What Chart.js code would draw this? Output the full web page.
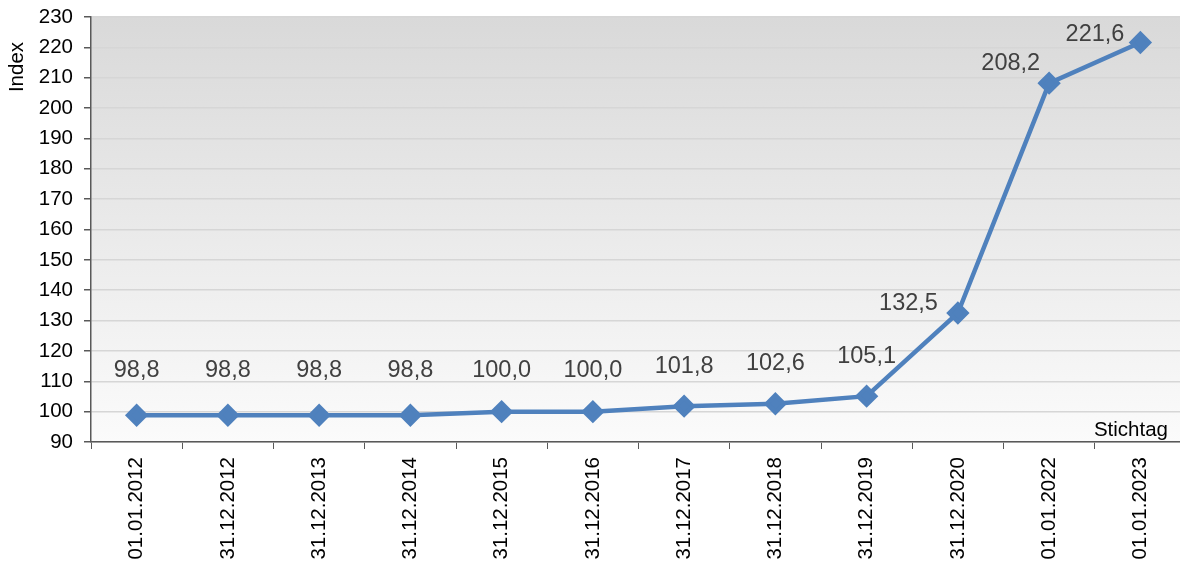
<!DOCTYPE html>
<html lang="de">
<head>
  <meta charset="UTF-8">
  <title>Index Stichtag</title>
  <style>
    body { margin: 0; padding: 0; background: #fff; overflow: hidden; }
    #wrap { width: 1199px; height: 563px; position: relative; }
  </style>
</head>
<body>
  <div id="wrap"><canvas id="chart"></canvas></div>

  <script src="https://cdn.jsdelivr.net/npm/chart.js"></script>
  <script>
    const stichtage = ["01.01.2012", "31.12.2012", "31.12.2013", "31.12.2014", "31.12.2015", "31.12.2016",
                       "31.12.2017", "31.12.2018", "31.12.2019", "31.12.2020", "01.01.2022", "01.01.2023"];
    const indexWerte = [98.8, 98.8, 98.8, 98.8, 100.0, 100.0, 101.8, 102.6, 105.1, 132.5, 208.2, 221.6];
    const yMin = 90, yMax = 230, yStep = 10;

    const FONT = "'Liberation Sans', Arial, sans-serif";

    // gradient background of the plot area
    const plotBg = {
      id: 'plotBg',
      beforeDraw(chart) {
        const { ctx, chartArea: a } = chart;
        const g = ctx.createLinearGradient(0, a.top, 0, a.bottom);
        g.addColorStop(0, '#d9d9d9');
        g.addColorStop(1, '#fbfbfb');
        ctx.save();
        ctx.fillStyle = g;
        ctx.fillRect(a.left, a.top, a.right - a.left, a.bottom - a.top);
        ctx.restore();
      }
    };

    // value labels and axis captions
    const labels = {
      id: 'labels',
      afterDatasetsDraw(chart) {
        const { ctx, chartArea: a } = chart;
        const meta = chart.getDatasetMeta(0);
        ctx.save();
        ctx.font = '23.5px ' + FONT;
        ctx.fillStyle = '#404040';
        ctx.textBaseline = 'middle';
        meta.data.forEach((pt, i) => {
          const txt = indexWerte[i].toFixed(1).replace('.', ',');
          if (i < 9) {
            ctx.textAlign = 'center';
            ctx.fillText(txt, pt.x, Math.min(pt.y - 40, 371));
          } else if (i === 9) {
            ctx.textAlign = 'right';
            ctx.fillText(txt, pt.x - 20, pt.y - 9);
          } else if (i === 10) {
            ctx.textAlign = 'right';
            ctx.fillText(txt, pt.x - 9, pt.y - 20);
          } else {
            ctx.textAlign = 'right';
            ctx.fillText(txt, pt.x - 16, pt.y - 8);
          }
        });
        ctx.font = '20.5px ' + FONT;
        ctx.fillStyle = '#000';
        ctx.textAlign = 'right';
        ctx.fillText('Stichtag', 1168, a.bottom - 12);
        ctx.translate(17, 67);
        ctx.rotate(-Math.PI / 2);
        ctx.textAlign = 'center';
        ctx.fillText('Index', 0, 0);
        ctx.restore();
      }
    };

    new Chart(document.getElementById('chart'), {
      type: 'line',
      data: {
        labels: stichtage,
        datasets: [{
          data: indexWerte,
          borderColor: '#4f81bd',
          backgroundColor: '#4f81bd',
          borderWidth: 4.5,
          pointStyle: 'rectRot',
          pointRadius: 8.5,
          pointHoverRadius: 8.5,
          tension: 0,
          fill: false
        }]
      },
      options: {
        responsive: true,
        maintainAspectRatio: false,
        animation: false,
        layout: { padding: { top: 17, right: 0, left: 0, bottom: 0 } },
        plugins: {
          legend: { display: false },
          tooltip: { enabled: false }
        },
        scales: {
          x: {
            offset: true,
            grid: { offset: true, drawOnChartArea: false, drawTicks: true, tickLength: 7, tickColor: '#595959' },
            border: { color: '#595959', width: 1.5 },
            ticks: {
              minRotation: 90, maxRotation: 90, autoSkip: false,
              padding: 8, color: '#000', font: { family: FONT, size: 20.5 }
            },
            afterFit(s) { s.height = 121; s.paddingLeft = 0; s.paddingRight = 0; }
          },
          y: {
            min: yMin, max: yMax,
            grid: { color: '#d6d6d6', lineWidth: 1.5, tickLength: 7, tickColor: '#595959' },
            border: { color: '#595959', width: 1.5 },
            ticks: {
              stepSize: yStep, padding: 11, color: '#000',
              font: { family: FONT, size: 20.5 }
            },
            afterFit(s) { s.width = 91; s.paddingTop = 0; s.paddingBottom = 0; }
          }
        }
      },
      plugins: [plotBg, labels]
    });
  </script>
</body>
</html>
